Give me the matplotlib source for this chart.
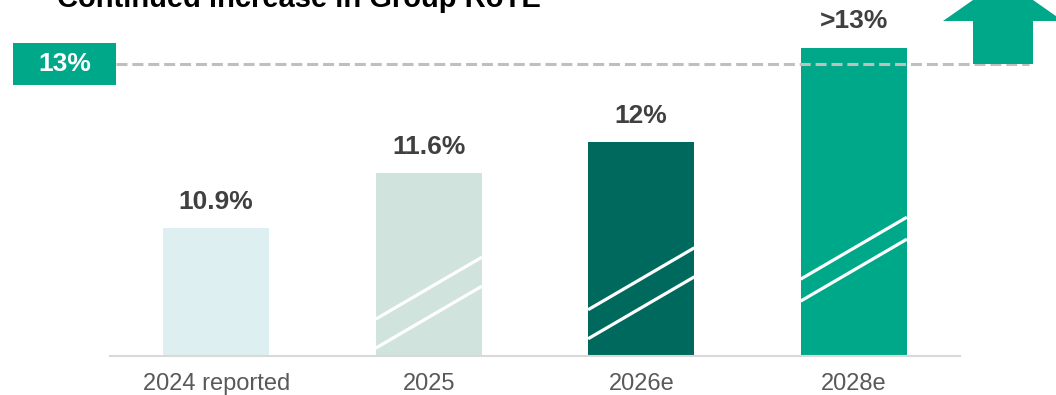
import matplotlib
matplotlib.use('Agg')
import matplotlib.pyplot as plt
from matplotlib.patches import Rectangle, Polygon
from matplotlib.transforms import blended_transform_factory

plt.rcParams['font.family'] = ['Liberation Sans', 'DejaVu Sans']

# data
categories = ['2024 reported', '2025', '2026e', '2028e']
rote = [10.9, 11.6, 12.0, 13.2]
value_labels = ['10.9%', '11.6%', '12%', '>13%']
target = 13.0
target_label = '13%'
title = 'Continued increase in Group RoTE'

bar_colors = ['#DDEFF1', '#D0E3DD', '#00695E', '#00A88A']
green = '#00A88A'

W, H = 1056, 395
fig = plt.figure(figsize=(W / 100, H / 100), dpi=100)
ax = fig.add_axes([110 / W, 39 / H, 850 / W, 356 / H])

x = range(len(categories))
ax.bar(x, rote, width=0.5, color=bar_colors, zorder=2)
ax.set_xlim(-0.5, 3.5)
ax.set_ylim(9.27, 13.81)

# white "estimate" stripes across the forecast bars
stripe_starts = [None, (0.47, 0.10), (0.59, 0.22), (0.98, 0.70)]
ymin = ax.get_ylim()[0]
for xi, starts in zip(x, stripe_starts):
    if starts is None:
        continue
    for s in starts:
        ax.plot([xi - 0.25, xi + 0.25], [ymin + s, ymin + s + 0.79],
                color='white', lw=2.3, solid_capstyle='butt', zorder=3)

# value labels above bars
for xi, v, lab in zip(x, rote, value_labels):
    ax.annotate(lab, (xi, v), xytext=(0, 19), textcoords='offset points',
                ha='center', va='center', fontsize=19, fontweight='bold',
                color='#404040')

# target line with its tag on the left
blend = blended_transform_factory(fig.transFigure, ax.transData)
ax.plot([116 / W, 1029 / W], [target, target], transform=blend,
        color='#BFBFBF', lw=2.2, dashes=(3.6, 1.6), clip_on=False, zorder=4)
ax.add_patch(Rectangle((13 / W, target - 0.268), 103 / W, 0.536,
                       transform=blend, facecolor=green, edgecolor='none',
                       clip_on=False))
ax.text(64.5 / W, target, target_label, transform=blend, ha='center',
        va='center', fontsize=19, fontweight='bold', color='white')

# upward arrow, top right
arrow_px = [(973, 331), (1033, 331), (1033, 374), (1063, 374),
            (1003, 416), (943, 374), (973, 374)]
fig.add_artist(Polygon([(px / W, py / H) for px, py in arrow_px],
                       closed=True, transform=fig.transFigure,
                       facecolor=green, edgecolor='none'))

fig.text(57 / W, (H - 7) / H, title, fontsize=21, fontweight='bold',
         color='black', va='baseline')

ax.set_xticks(list(x), categories, fontsize=17, color='#595959')
ax.tick_params(axis='x', length=0, pad=12)
ax.set_yticks([])
for side in ['top', 'left', 'right']:
    ax.spines[side].set_visible(False)
ax.spines['bottom'].set_color('#D9D9D9')
ax.spines['bottom'].set_linewidth(1.5)
ax.patch.set_alpha(0)

fig.savefig('out.png', dpi=100)
